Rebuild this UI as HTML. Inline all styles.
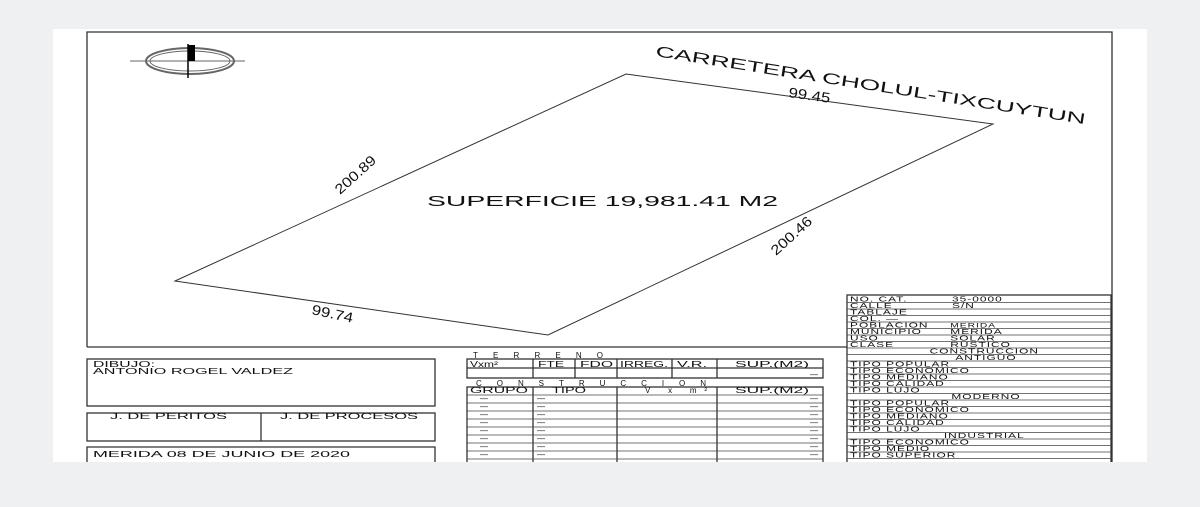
<!DOCTYPE html>
<html><head><style>
body{margin:0;width:1200px;height:507px;background:#eff0f2;overflow:hidden}
svg{position:absolute;left:0;top:0}
text{font-family:"Liberation Sans",sans-serif;fill:#111}
</style></head><body>
<svg width="1200" height="507" viewBox="0 0 1200 507">
<rect x="53" y="29" width="1094" height="433" fill="#fff"/>
<g stroke="#333" fill="none" stroke-width="1.3">
<polyline points="87,347 87,32 1112,32 1112,462"/>
<line x1="87" y1="347" x2="847" y2="347"/>
<polygon points="175,281 626,74 993,124 548,335" stroke-width="1"/>
<rect x="87" y="359" width="348" height="47"/>
<rect x="87" y="413" width="348" height="28"/>
<line x1="261" y1="413" x2="261" y2="441"/>
<polyline points="87,462 87,447 435,447 435,462"/>
<rect x="847" y="295" width="264" height="170"/>
<rect x="467" y="359" width="356" height="19"/>
<line x1="467" y1="368" x2="823" y2="368"/>
<line x1="533" y1="359" x2="533" y2="378"/><line x1="575" y1="359" x2="575" y2="378"/><line x1="617" y1="359" x2="617" y2="378"/><line x1="672" y1="359" x2="672" y2="378"/><line x1="717" y1="359" x2="717" y2="378"/>
<rect x="467" y="387" width="356" height="80"/>
<line x1="533" y1="387" x2="533" y2="467"/><line x1="617" y1="387" x2="617" y2="467"/><line x1="717" y1="387" x2="717" y2="467"/>
</g>
<g stroke="#444" stroke-width="0.8">
<line x1="467" y1="395" x2="823" y2="395"/><line x1="467" y1="403" x2="823" y2="403"/><line x1="467" y1="411" x2="823" y2="411"/><line x1="467" y1="419" x2="823" y2="419"/><line x1="467" y1="427" x2="823" y2="427"/><line x1="467" y1="435" x2="823" y2="435"/><line x1="467" y1="443" x2="823" y2="443"/><line x1="467" y1="451" x2="823" y2="451"/><line x1="467" y1="459" x2="823" y2="459"/>
<line x1="847" y1="302.5" x2="1111" y2="302.5"/><line x1="847" y1="309" x2="1111" y2="309"/><line x1="847" y1="315.5" x2="1111" y2="315.5"/><line x1="847" y1="322" x2="1111" y2="322"/><line x1="847" y1="328.5" x2="1111" y2="328.5"/><line x1="847" y1="335" x2="1111" y2="335"/><line x1="847" y1="341.5" x2="1111" y2="341.5"/><line x1="847" y1="348" x2="1111" y2="348"/><line x1="847" y1="354.5" x2="1111" y2="354.5"/><line x1="847" y1="361" x2="1111" y2="361"/><line x1="847" y1="367.5" x2="1111" y2="367.5"/><line x1="847" y1="374" x2="1111" y2="374"/><line x1="847" y1="380.5" x2="1111" y2="380.5"/><line x1="847" y1="387" x2="1111" y2="387"/><line x1="847" y1="393.5" x2="1111" y2="393.5"/><line x1="847" y1="400" x2="1111" y2="400"/><line x1="847" y1="406.5" x2="1111" y2="406.5"/><line x1="847" y1="413" x2="1111" y2="413"/><line x1="847" y1="419.5" x2="1111" y2="419.5"/><line x1="847" y1="426" x2="1111" y2="426"/><line x1="847" y1="432.5" x2="1111" y2="432.5"/><line x1="847" y1="439" x2="1111" y2="439"/><line x1="847" y1="445.5" x2="1111" y2="445.5"/><line x1="847" y1="452" x2="1111" y2="452"/><line x1="847" y1="458.5" x2="1111" y2="458.5"/>
</g>
<g fill="none" stroke="#666" stroke-width="2">
<ellipse cx="190" cy="61" rx="44" ry="13"/><ellipse cx="190" cy="61" rx="40" ry="10" stroke-width="1"/>
<line x1="130" y1="61" x2="245" y2="61" stroke-width="1"/>
</g>
<line x1="188" y1="44" x2="188" y2="78" stroke="#000" stroke-width="1.5"/>
<rect x="188" y="45" width="7" height="16" fill="#000"/>
<text x="655" y="56" font-size="15" transform="rotate(9 655 56)" textLength="435" lengthAdjust="spacingAndGlyphs">CARRETERA CHOLUL-TIXCUYTUN</text>
<text x="788" y="97" font-size="14" transform="rotate(8 788 97)" textLength="42" lengthAdjust="spacingAndGlyphs">99.45</text>
<text x="340" y="195" font-size="14" transform="rotate(-42 340 195)" textLength="50" lengthAdjust="spacingAndGlyphs">200.89</text>
<text x="776" y="256" font-size="14" transform="rotate(-42 776 256)" textLength="50" lengthAdjust="spacingAndGlyphs">200.46</text>
<text x="311" y="314" font-size="14" transform="rotate(12 311 314)" textLength="42" lengthAdjust="spacingAndGlyphs">99.74</text>
<text x="427" y="206" font-size="15" textLength="351" lengthAdjust="spacingAndGlyphs">SUPERFICIE 19,981.41 M2</text>
<g font-size="8" lengthAdjust="spacingAndGlyphs">
<text x="93" y="367" textLength="62" lengthAdjust="spacingAndGlyphs">DIBUJO:</text><text x="93" y="374" textLength="200" lengthAdjust="spacingAndGlyphs">ANTONIO ROGEL VALDEZ</text>
<text x="110" y="419" textLength="117" lengthAdjust="spacingAndGlyphs">J. DE PERITOS</text><text x="280" y="419" textLength="138" lengthAdjust="spacingAndGlyphs">J. DE PROCESOS</text>
<text x="93" y="457" textLength="257" lengthAdjust="spacingAndGlyphs">MERIDA 08 DE JUNIO DE 2020</text>
<text x="473" y="358" textLength="130" lengthAdjust="spacing">TERRENO</text>
<text x="470" y="367" textLength="28" lengthAdjust="spacingAndGlyphs">Vxm²</text><text x="538" y="367" textLength="26" lengthAdjust="spacingAndGlyphs">FTE</text><text x="580" y="367" textLength="33" lengthAdjust="spacingAndGlyphs">FDO</text><text x="620" y="367" textLength="48" lengthAdjust="spacingAndGlyphs">IRREG.</text><text x="677" y="367" textLength="30" lengthAdjust="spacingAndGlyphs">V.R.</text><text x="735" y="367" textLength="74" lengthAdjust="spacingAndGlyphs">SUP.(M2)</text>
<text x="810" y="377">—</text>
<text x="476" y="386" textLength="230" lengthAdjust="spacing">CONSTRUCCION</text>
<text x="470" y="393" textLength="58" lengthAdjust="spacingAndGlyphs">GRUPO</text><text x="552" y="393" textLength="34" lengthAdjust="spacingAndGlyphs">TIPO</text><text x="645" y="393" textLength="62" lengthAdjust="spacing">V x m²</text><text x="735" y="393" textLength="74" lengthAdjust="spacingAndGlyphs">SUP.(M2)</text>
</g>
<g font-size="7" letter-spacing="0.6" transform="translate(850,0) scale(1.7,1)">
<text x="0" y="301.5">NO. CAT.</text><text x="60" y="301.5">35-0000</text>
<text x="0" y="308">CALLE</text><text x="60" y="308">S/N</text>
<text x="0" y="314.5">TABLAJE</text><text x="0" y="321">COL. —</text>
<text x="0" y="327.5">POBLACION</text><text x="59" y="327.5" font-size="6">MERIDA</text>
<text x="0" y="334">MUNICIPIO</text><text x="59" y="334">MERIDA</text>
<text x="0" y="340.5">USO</text><text x="59" y="340.5">SOLAR</text>
<text x="0" y="347">CLASE</text><text x="59" y="347">RUSTICO</text>
<g text-anchor="middle"><text x="79" y="353.5">CONSTRUCCION</text><text x="80" y="360">ANTIGUO</text>
<text x="80" y="399">MODERNO</text><text x="79" y="438">INDUSTRIAL</text></g>
<text x="0" y="366.5">TIPO POPULAR</text><text x="0" y="373">TIPO ECONOMICO</text><text x="0" y="379.5">TIPO MEDIANO</text><text x="0" y="386">TIPO CALIDAD</text><text x="0" y="392.5">TIPO LUJO</text>
<text x="0" y="405.5">TIPO POPULAR</text><text x="0" y="412">TIPO ECONOMICO</text><text x="0" y="418.5">TIPO MEDIANO</text><text x="0" y="425">TIPO CALIDAD</text><text x="0" y="431.5">TIPO LUJO</text>
<text x="0" y="444.5">TIPO ECONOMICO</text><text x="0" y="451">TIPO MEDIO</text><text x="0" y="457.5">TIPO SUPERIOR</text>
</g>
<g font-size="8" fill="#111">
<text x="480" y="401">—</text><text x="480" y="409">—</text><text x="480" y="417">—</text><text x="480" y="425">—</text><text x="480" y="433">—</text><text x="480" y="441">—</text><text x="480" y="449">—</text><text x="480" y="457">—</text>
<text x="537" y="401">—</text><text x="537" y="409">—</text><text x="537" y="417">—</text><text x="537" y="425">—</text><text x="537" y="433">—</text><text x="537" y="441">—</text><text x="537" y="449">—</text><text x="537" y="457">—</text>
<text x="810" y="401">—</text><text x="810" y="409">—</text><text x="810" y="417">—</text><text x="810" y="425">—</text><text x="810" y="433">—</text><text x="810" y="441">—</text><text x="810" y="449">—</text><text x="810" y="457">—</text>
</g>
<rect x="0" y="462" width="1200" height="45" fill="#eff0f2"/>
</svg>
</body></html>
